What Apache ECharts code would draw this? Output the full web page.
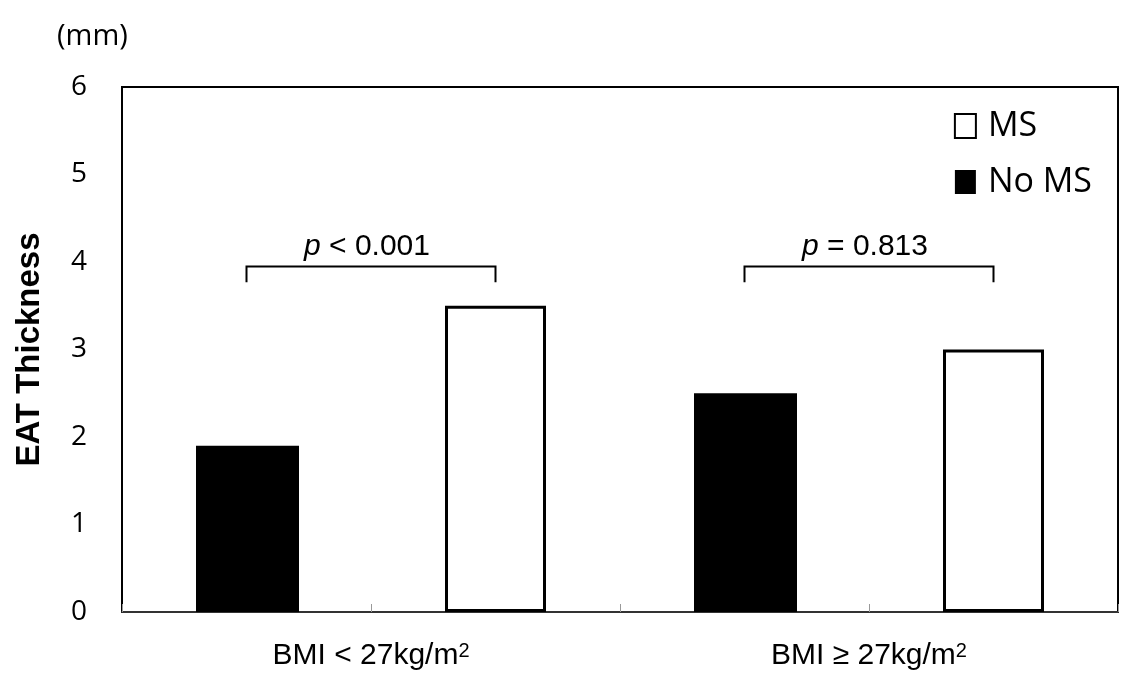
<!DOCTYPE html>
<html><head><meta charset="utf-8">
<script src="https://cdn.jsdelivr.net/npm/echarts@6/dist/echarts.min.js"></script>
<style>html,body{margin:0;padding:0;background:#fff}#c{width:1138px;height:677px}</style>
</head><body><div id="c"></div>
<script>
var slots = ['No MS <27', 'MS <27', 'No MS >=27', 'MS >=27'];
var groupLabels = ['BMI < 27kg/m', 'BMI \u2265 27kg/m'];
var noMS = [1.9, null, 2.5, null];
var ms = [null, 3.5, null, 3.0];
var yTicks = [0, 1, 2, 3, 4, 5, 6];
var brackets = [[0, 1, 3.95, 3.77, '< 0.001'], [2, 3, 3.95, 3.77, '= 0.813']];

var chart = echarts.init(document.getElementById('c'));
chart.setOption({
  backgroundColor: '#fff',
  animation: false,
  title: { text: '(mm)', left: 52, top: 17, textStyle: { fontFamily: 'Open Sans', fontSize: 29, fontWeight: 'normal', color: '#000' } },
  grid: { left: 122, right: 20, top: 87, bottom: 65, show: true, borderColor: '#000', borderWidth: 2, backgroundColor: 'transparent' },
  legend: {
    orient: 'vertical', right: 41, top: 104, itemGap: 22, itemWidth: 21, itemHeight: 24,
    textStyle: { fontFamily: 'Open Sans', fontSize: 34, color: '#000', padding: [0, 0, 0, 7] },
    data: [
      { name: 'MS', icon: 'rect', itemStyle: { color: '#fff', borderColor: '#000', borderWidth: 2 } },
      { name: 'No MS', icon: 'rect', itemStyle: { color: '#000', borderWidth: 0 } }
    ]
  },
  xAxis: [
    { type: 'category', data: slots, boundaryGap: true,
      axisLine: { lineStyle: { color: '#333', width: 2 } },
      axisTick: { show: true, inside: true, length: 8, lineStyle: { color: '#999', width: 1 } },
      axisLabel: { show: false } },
    { type: 'category', data: groupLabels, position: 'bottom',
      axisLine: { show: false }, axisTick: { show: false },
      axisLabel: { margin: 29, fontFamily: 'Liberation Sans', fontSize: 30, color: '#000',
        formatter: function (v) { return v + '{s|2}'; },
        rich: { s: { fontFamily: 'Liberation Sans', fontSize: 20, color: '#000', verticalAlign: 'top', padding: [0, 0, 10, 0] } } } }
  ],
  yAxis: {
    type: 'value', min: 0, max: 6, interval: 1,
    name: 'EAT Thickness', nameLocation: 'middle', nameRotate: 90, nameGap: 76,
    nameTextStyle: { fontFamily: 'Liberation Sans', fontWeight: 'bold', fontSize: 33, color: '#000' },
    axisLine: { show: true, lineStyle: { color: '#000', width: 2 } },
    axisTick: { show: false }, splitLine: { show: false },
    axisLabel: { margin: 35, fontFamily: 'Open Sans', fontSize: 28, color: '#000',
      formatter: function (v) { return yTicks.indexOf(v) >= 0 ? String(v) : ''; } }
  },
  series: [
    { name: 'No MS', type: 'bar', data: noMS, barWidth: 103, barGap: '-100%',
      itemStyle: { color: '#000' } },
    { name: 'MS', type: 'bar', data: ms, barWidth: 101, barGap: '-100%',
      itemStyle: { color: '#fff', borderColor: '#000', borderWidth: 3 } },
    { name: 'brackets', type: 'custom', data: brackets, silent: true, z: 10,
      renderItem: function (params, api) {
        var a = api.coord([api.value(0), api.value(2)]);
        var b = api.coord([api.value(1), api.value(2)]);
        var lo = api.coord([api.value(0), api.value(3)]);
        var txt = brackets[params.dataIndex][4];
        return { type: 'group', children: [
          { type: 'polyline', shape: { points: [[a[0], lo[1]], [a[0], a[1]], [b[0], b[1]], [b[0], lo[1]]] },
            style: { stroke: '#000', lineWidth: 2, fill: null } },
          { type: 'text', x: (a[0] + b[0]) / 2 - 4, y: a[1] - 5,
            style: { text: '{p|p} ' + txt, align: 'center', verticalAlign: 'bottom',
              font: '30px Liberation Sans', fill: '#000',
              rich: { p: { fontStyle: 'italic', fontFamily: 'Liberation Sans', fontSize: 30, fill: '#000' } } } }
        ] };
      } }
  ]
});
</script></body></html>
